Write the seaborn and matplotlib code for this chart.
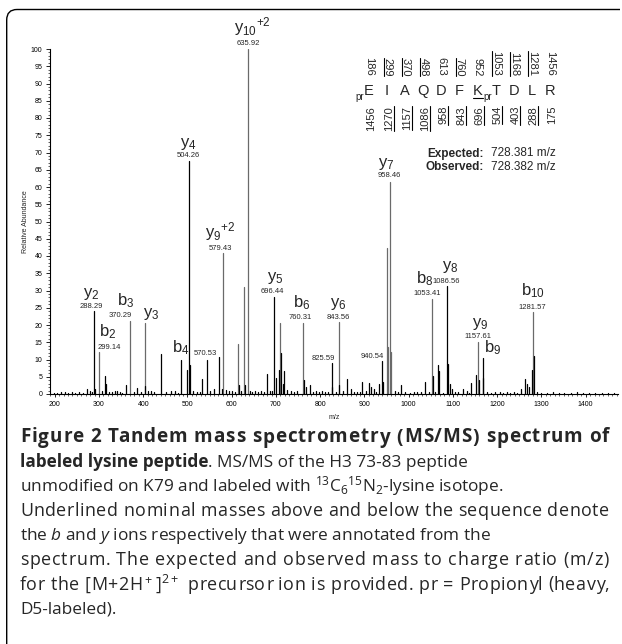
import pandas as pd
import matplotlib
matplotlib.use("Agg")
import matplotlib.pyplot as plt
import seaborn as sns
from matplotlib.path import Path
from matplotlib.patches import PathPatch
from matplotlib.lines import Line2D
from matplotlib.ticker import MultipleLocator

# ==============================
# DATA
# ==============================

# annotated fragment ions
ion_tags = [r"y$\mathregular{_{10}{}^{+2}}$", r"y$\mathregular{_4}$", r"y$\mathregular{_9{}^{+2}}$",
            r"y$\mathregular{_2}$", r"b$\mathregular{_2}$", r"b$\mathregular{_3}$", r"y$\mathregular{_3}$",
            r"b$\mathregular{_4}$", r"y$\mathregular{_5}$", r"b$\mathregular{_6}$", r"y$\mathregular{_6}$",
            r"y$\mathregular{_7}$", r"b$\mathregular{_8}$", r"y$\mathregular{_8}$", r"y$\mathregular{_9}$",
            r"b$\mathregular{_9}$", r"b$\mathregular{_{10}}$", "", "", ""]
ion_mz = [635.92, 504.26, 579.43, 288.29, 299.14, 370.29, 403.25, 498.2, 696.44, 760.31,
          843.56, 958.46, 1053.41, 1086.56, 1157.61, 1167.6, 1281.57, 570.53, 825.59, 940.54]
ion_int = [100, 67.5, 40.8, 24.0, 12.1, 21.2, 20.7, 6.9, 28.2, 20.6,
           21.0, 61.5, 27.5, 31.3, 15.2, 10.3, 23.7, 10.6, 8.9, 9.6]
ion_shown = ["635.92", "504.26", "579.43", "288.29", "299.14", "370.29", "", "", "696.44", "760.31",
             "843.56", "958.46", "1053.41", "1086.56", "1157.61", "", "1281.57", "570.53", "825.59", "940.54"]

# other visible peaks
peak_mz = [273, 292, 312.8, 316, 341, 360.6, 385.5, 405, 410, 439.4,
           462, 486.5, 506.5, 533.8, 544.3, 561, 577, 594.5, 614.3, 616,
           627, 629, 641.6, 679, 699, 708, 710, 712, 717, 719,
           763, 768, 777, 803.5, 827.6, 842, 861, 870, 895, 910,
           914, 921, 934, 942, 952, 953, 960, 983.5, 1036, 1054.5,
           1067, 1068.5, 1088, 1093, 1097, 1123, 1141, 1151, 1159, 1169,
           1253, 1262.7, 1268, 1271, 1278, 1282.5]
peak_int = [1.4, 1.5, 5.3, 2.8, 0.8, 2.5, 1.7, 2.4, 1.0, 11.5,
            0.8, 10.0, 8.3, 4.3, 9.8, 1.5, 1.5, 1.0, 14.4, 2.5,
            30.9, 2.5, 1.0, 5.7, 4.5, 7.0, 20.5, 11.8, 3.0, 6.6,
            4.2, 2.0, 2.5, 1.0, 2.0, 2.7, 4.3, 1.5, 3.6, 3.3,
            2.0, 1.5, 2.8, 3.5, 42.3, 13.7, 12.1, 2.6, 3.5, 5.3,
            8.3, 6.8, 8.8, 3.0, 1.5, 1.5, 3.2, 5.6, 4.0, 4.5,
            1.5, 4.3, 3.0, 2.0, 7.0, 11.0]

# baseline chatter
noise_mz = [198, 206, 214, 223, 231, 239, 247, 255, 263, 279,
            285, 306, 322, 329, 336, 347, 353, 379, 395, 417,
            425, 452, 471, 479, 513, 521, 528, 552, 588, 601,
            607, 622, 646, 653, 660, 667, 673, 686, 691, 726,
            733, 741, 748, 783, 790, 797, 811, 818, 835, 852,
            877, 884, 890, 903, 926, 968, 975, 992, 1004, 1011,
            1019, 1027, 1045, 1060, 1078, 1104, 1112, 1131, 1136, 1178,
            1186, 1194, 1207, 1214, 1222, 1230, 1238, 1245, 1290, 1298,
            1312, 1325, 1339, 1352, 1366, 1381, 1394, 1408, 1421, 1436,
            1450, 1463]
noise_int = [0.4, 0.3, 0.6, 0.5, 0.3, 0.7, 0.4, 0.5, 0.3, 0.8,
             0.6, 0.9, 0.7, 0.5, 0.8, 0.6, 0.4, 0.5, 0.7, 0.9,
             0.6, 0.5, 0.8, 0.4, 0.9, 0.7, 0.6, 0.8, 1.1, 0.9,
             0.6, 0.8, 0.7, 0.9, 0.6, 1.0, 0.7, 0.8, 0.9, 1.2,
             0.8, 0.7, 0.9, 0.6, 0.8, 0.5, 0.7, 0.6, 0.5, 0.8,
             0.6, 0.7, 0.5, 0.9, 0.6, 0.8, 0.5, 0.7, 0.4, 0.6,
             0.5, 0.7, 0.6, 0.5, 0.4, 0.6, 0.5, 0.8, 0.4, 0.5,
             0.4, 0.6, 0.5, 0.4, 0.6, 0.3, 0.5, 0.4, 0.5, 0.4,
             0.3, 0.5, 0.4, 0.3, 0.4, 0.5, 0.3, 0.4, 0.3, 0.4,
             0.3, 0.4]

# peptide sequence and nominal fragment masses
seq = ["E", "I", "A", "Q", "D", "F", "K", "T", "D", "L", "R"]
b_masses = ["186", "299", "370", "498", "613", "760", "952", "1053", "1168", "1281", "1456"]
y_masses = ["1456", "1270", "1157", "1086", "958", "843", "696", "504", "403", "288", "175"]
b_seen = [False, True, True, True, False, True, False, True, True, True, False]
y_seen = [False, True, True, True, True, True, True, True, True, True, False]

expected_mz = "728.381 m/z"
observed_mz = "728.382 m/z"

# ==============================
# LAYOUT (pixels)
# ==============================

W, H = 622, 644
# label placement per ion: (tag dx, tag dy, tag ha, number dx, number dy, number ha)
place = [(4.4, 10.7, "center", 0.4, 2.3, "center"), (-1.3, 8.7, "center", -1.3, 1.7, "center"),
         (-2, 10, "center", -2, 1, "center"), (-2.1, 9.5, "center", -2.1, 1.2, "center"),
         (9.4, 11.6, "center", 10.5, 1.6, "center"), (-4.3, 10.9, "center", -9.6, 1.6, "center"),
         (-2, 1, "left", 0, 0, "center"), (-5.6, 12.9, "center", 0, 0, "center"),
         (0.6, 10.7, "center", -1.7, 1.4, "center"), (-0.9, 11.2, "center", -2.6, 2.2, "center"),
         (-1.2, 9.8, "center", -1.2, 0.8, "center"), (-4.3, 10.1, "center", -1, 2.8, "center"),
         (-7.5, 11.5, "center", -5, 1.8, "center"), (3, 11, "center", -1, 1, "center"),
         (1.6, 9.9, "center", -0.7, 1.6, "center"), (1, 1.8, "left", 0, 0, "center"),
         (0, 12.2, "center", -1, 1.5, "center"), (0, 0, "center", -2, 0, "right"),
         (0, 0, "center", 3.5, 1.6, "right"), (0, 0, "center", 1, 0.9, "right")]
dark_ions = {1, 3, 8, 13}
PX = 0.72  # points per pixel at 100 dpi

sns.set_style("ticks")
plt.rcParams["font.family"] = ["Liberation Sans", "DejaVu Sans"]
plt.rcParams["mathtext.fontset"] = "custom"
plt.rcParams["mathtext.rm"] = "Open Sans"
plt.rcParams["mathtext.it"] = "Open Sans:italic"
plt.rcParams["mathtext.bf"] = "Open Sans:bold"

fig = plt.figure(figsize=(W / 100, H / 100), dpi=100)
fig.patch.set_facecolor("white")
ax = fig.add_axes([50 / W, 1 - 394 / H, 568 / W, 345 / H])


def fx(px):
    return px / W


def fy(py):
    return 1 - py / H


# ==============================
# STEMS
# ==============================

rows = []
pid = 0
for i, (m, v) in enumerate(zip(ion_mz, ion_int)):
    tone = "dark" if (i in dark_ions or v < 12) else "grey"
    rows += [(pid, m, 0.0, tone), (pid, m, v, tone)]
    pid += 1
for m, v in zip(peak_mz, peak_int):
    tone = "dark" if v < 12 else "grey"
    rows += [(pid, m, 0.0, tone), (pid, m, v, tone)]
    pid += 1
for m, v in zip(noise_mz, noise_int):
    rows += [(pid, m, 0.0, "dark"), (pid, m, v, "dark")]
    pid += 1
spec = pd.DataFrame(rows, columns=["pid", "mz", "abund", "tone"])

sns.lineplot(data=spec, x="mz", y="abund", units="pid", estimator=None, sort=False,
             hue="tone", palette={"dark": "black", "grey": "#6a6a6a"},
             legend=False, lw=0.9, ax=ax)

ax.set_xlim(189.4, 1473)
ax.set_ylim(0, 100)
ax.xaxis.set_major_locator(MultipleLocator(100))
ax.xaxis.set_minor_locator(MultipleLocator(10))
ax.yaxis.set_major_locator(MultipleLocator(5))
ax.yaxis.set_minor_locator(MultipleLocator(1))
ax.tick_params(axis="both", which="major", labelsize=5, width=0.6, color="black", labelcolor="black")
ax.tick_params(axis="y", which="major", length=2.9, pad=2.6)
ax.tick_params(axis="y", which="minor", length=1.8, width=0.5)
ax.tick_params(axis="x", which="major", length=2.2, pad=3.2)
ax.tick_params(axis="x", which="minor", length=1.3, width=0.5)
sns.despine(ax=ax)
for s in ["left", "bottom"]:
    ax.spines[s].set_linewidth(0.8)
    ax.spines[s].set_color("black")
ax.set_xlabel("m/z", fontsize=5)
ax.set_ylabel("Relative Abundance", fontsize=5)
ax.xaxis.set_label_coords(0.5, -0.058)
ax.yaxis.set_label_coords(-0.037, 0.5)

# ion annotations
for i, m in enumerate(ion_mz):
    tdx, tdy, tha, ndx, ndy, nha = place[i]
    if ion_tags[i]:
        ax.annotate(ion_tags[i], xy=(m, ion_int[i]), xytext=(tdx * PX, tdy * PX),
                    textcoords="offset points", ha=tha, va="bottom", fontsize=12,
                    annotation_clip=False)
    if ion_shown[i]:
        ax.annotate(ion_shown[i], xy=(m, ion_int[i]), xytext=(ndx * PX, ndy * PX),
                    textcoords="offset points", ha=nha, va="bottom", fontsize=5.5,
                    annotation_clip=False)

# ==============================
# SEQUENCE PANEL
# ==============================

r = fig.canvas.get_renderer()
col0, step = 369, 18.1
for k, aa in enumerate(seq):
    cx = col0 + k * step
    fig.text(fx(cx), fy(91), aa, fontsize=10.5, ha="center", va="center")
    tb = fig.text(fx(cx), fy(76), b_masses[k], fontsize=8, rotation=-90, ha="center", va="bottom")
    if b_seen[k]:
        bb = tb.get_window_extent(renderer=r)
        fig.add_artist(Line2D([fx(bb.x0 + 1.5), fx(bb.x0 + 1.5)], [bb.y0 / H, bb.y1 / H],
                              transform=fig.transFigure, color="black", lw=0.8))
    ty = fig.text(fx(cx + 2), fy(106), y_masses[k], fontsize=8, rotation=90, ha="center", va="top")
    if y_seen[k]:
        bb = ty.get_window_extent(renderer=r)
        fig.add_artist(Line2D([fx(bb.x1 - 0.5), fx(bb.x1 - 0.5)], [bb.y0 / H, bb.y1 / H],
                              transform=fig.transFigure, color="black", lw=0.8))
fig.text(fx(359.5), fy(97), "pr", fontsize=7, ha="center", va="center")
fig.text(fx(col0 + 6 * step + 10), fy(97), "pr", fontsize=7, ha="center", va="center")
kx = col0 + 6 * step
fig.add_artist(Line2D([fx(kx - 5), fx(kx + 5)], [fy(97.5), fy(97.5)],
                      transform=fig.transFigure, color="black", lw=0.8))

fig.text(fx(484), fy(153.5), "Expected:", fontsize=8.5, fontweight="bold", ha="right", va="center")
fig.text(fx(491), fy(153.5), expected_mz, fontsize=8.5, ha="left", va="center")
fig.text(fx(484), fy(167), "Observed:", fontsize=8.5, fontweight="bold", ha="right", va="center")
fig.text(fx(491), fy(167), observed_mz, fontsize=8.5, ha="left", va="center")

# ==============================
# CAPTION
# ==============================

CAP = 12.4
RIGHT = 609


def measure(s, kw, size):
    t = fig.text(0, 0, s, fontsize=size, family="Open Sans", **kw)
    w = t.get_window_extent(renderer=r).width
    t.remove()
    return w


def tokens(s):
    out, i = [], 0
    while i < len(s):
        if s[i] == "$":
            j = s.index("$", i + 1)
            out.append(s[i:j + 1])
            i = j + 1
        else:
            out.append(s[i])
            i += 1
    return out


def write_row(px, py, parts, size=None):
    if size is None:
        x = px
        for s, kw in parts:
            t = fig.text(fx(x), fy(py), s, fontsize=CAP, family="Open Sans", va="baseline", **kw)
            x += t.get_window_extent(renderer=r).width
        return
    # justified line: slightly bigger type, then track the letters out to the margin
    s, kw = parts[0]
    toks = tokens(s)
    extra = max(0, (RIGHT - px - measure(s, kw, size)) / (len(toks) - 1))
    prefix = ""
    for k, tok in enumerate(toks):
        if tok != " ":
            off = 0 if k == 0 else measure(prefix + tok, kw, size) - measure(tok, kw, size)
            fig.text(fx(px + off + k * extra), fy(py), tok, fontsize=size, family="Open Sans",
                     va="baseline", ha="left", **kw)
        prefix += tok


bold = {"fontweight": "bold"}
reg = {}
caption = [
    ([("Figure 2 Tandem mass spectrometry (MS/MS) spectrum of", bold)], 13.6),
    ([("labeled lysine peptide", bold), (". MS/MS of the H3 73-83 peptide", reg)], None),
    ([(r"unmodified on K79 and labeled with $\mathregular{{}^{13}C_6{}^{15}N_2}$-lysine isotope.", reg)], None),
    ([("Underlined nominal masses above and below the sequence denote", reg)], 12.9),
    ([(r"the $\mathit{b}$ and $\mathit{y}$ ions respectively that were annotated from the", reg)], None),
    ([("spectrum. The expected and observed mass to charge ratio (m/z)", reg)], 12.9),
    ([(r"for the [M+2H$\mathregular{^+}$]$\mathregular{^{2+}}$ precursor ion is provided. pr = Propionyl (heavy,", reg)], 12.9),
    ([("D5-labeled).", reg)], None),
]
for j, (parts, size) in enumerate(caption):
    write_row(20, 442.5 + j * 24.5, parts, size)

# rounded frame (top + left edges)
verts = [(fx(6.7), fy(644)), (fx(6.7), fy(20)), (fx(6.7), fy(9.5)), (fx(17), fy(9.5)), (fx(620), fy(9.5))]
codes = [Path.MOVETO, Path.LINETO, Path.CURVE3, Path.CURVE3, Path.LINETO]
fig.add_artist(PathPatch(Path(verts, codes), transform=fig.transFigure, fill=False, lw=1.0, ec="black"))

plt.savefig("out.png", dpi=100, facecolor="white")
